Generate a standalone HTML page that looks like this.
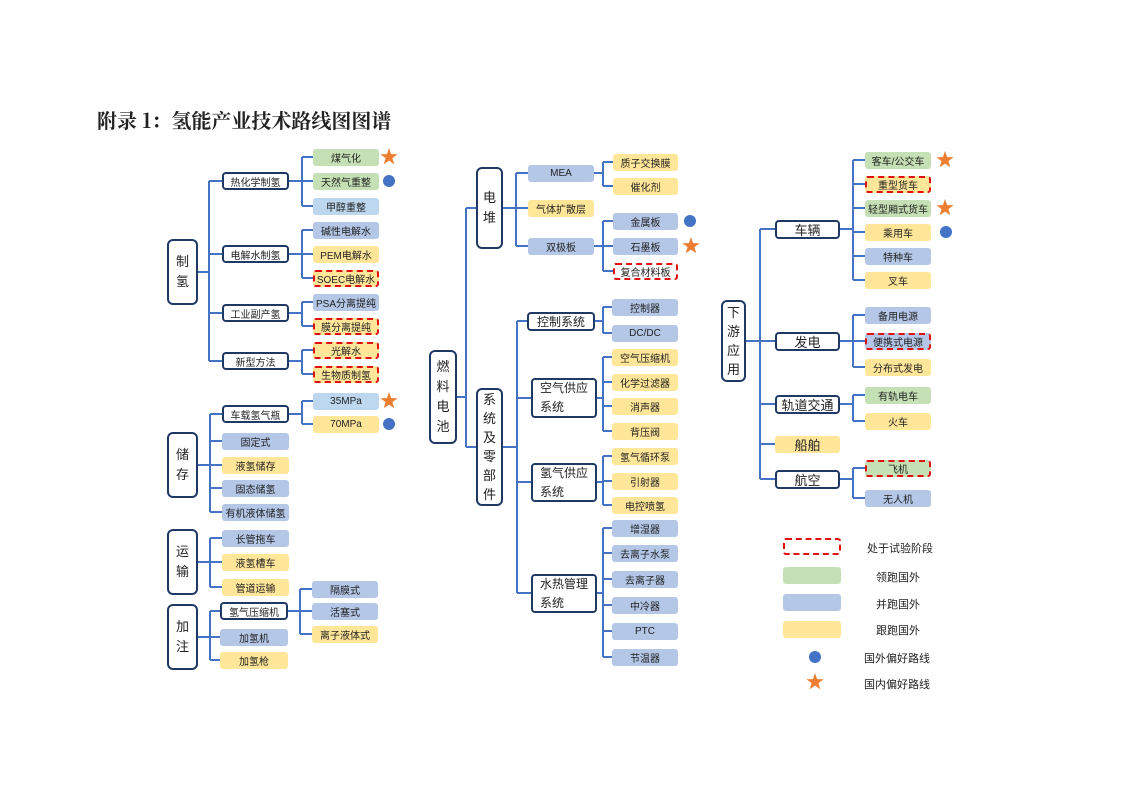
<!DOCTYPE html>
<html><head><meta charset="utf-8"><style>
body{margin:0;background:#fff;}
#c{position:relative;width:1122px;height:793px;overflow:hidden;font-family:"Liberation Sans","Noto Sans CJK SC",sans-serif;color:#222;}
.n{position:absolute;display:flex;align-items:center;justify-content:center;box-sizing:border-box;font-size:10px;border-radius:3px;white-space:nowrap;}
.b{background:#fff;border:2px solid #203864;border-radius:4px;}
.r{flex-direction:column;font-size:13px;line-height:20px;border-radius:6px;}
.g{background:#c5e0b4}.u{background:#b4c7e7}.l{background:#bdd7ee}.y{background:#ffe699}
.d{border:2px dashed #e01010;}
.m{font-size:12px}.k{font-size:13px}
svg{position:absolute;left:0;top:0}
.t{position:absolute;font-size:11px;}
</style></head><body><div id="c">
<div style="position:absolute;left:97px;top:105px;font-family:'Noto Serif CJK SC','Liberation Serif',serif;font-weight:bold;font-size:20px;">附录 1：氢能产业技术路线图图谱</div>
<svg width="1122" height="793"><g fill="none" stroke="#4472c4" stroke-width="2">
<path d="M198 272H209M209 181V361M209 181H222M209 254H222M209 313H222M209 361H222"/>
<path d="M289 181H302M302 157V206M302 157H313M302 181H313M302 206H313"/>
<path d="M289 254H302M302 230V278M302 230H313M302 254H313M302 278H313"/>
<path d="M289 313H302M302 302V326M302 302H313M302 326H313"/>
<path d="M289 361H302M302 350V374M302 350H313M302 374H313"/>
<path d="M198 465H210M210 414V512M210 414H222M210 441H222M210 465H222M210 488H222M210 512H222"/>
<path d="M289 414H302M302 401V424M302 401H313M302 424H313"/>
<path d="M198 562H210M210 538V587M210 538H222M210 562H222M210 587H222"/>
<path d="M198 637H210M210 611V660M210 611H220M210 637H220M210 660H220"/>
<path d="M288 611H300M300 589V634M300 589H312M300 611H312M300 634H312"/>
<path d="M457 397H466M466 208V447M466 208H476M466 447H476"/>
<path d="M503 208H516M516 173V246M516 173H528M516 208H528M516 246H528"/>
<path d="M594 173H603M603 162V186M603 162H613M603 186H613"/>
<path d="M594 246H603M603 221V271M603 221H613M603 246H613M603 271H613"/>
<path d="M503 447H517M517 321V593M517 321H527M517 398H531M517 482H531M517 593H531"/>
<path d="M595 321H603M603 307V333M603 307H612M603 333H612"/>
<path d="M597 398H603M603 357V431M603 357H612M603 382H612M603 406H612M603 431H612"/>
<path d="M597 482H603M603 456V505M603 456H612M603 481H612M603 505H612"/>
<path d="M597 593H603M603 528V657M603 528H612M603 553H612M603 579H612M603 605H612M603 631H612M603 657H612"/>
<path d="M746 341H760M760 229V479M760 229H775M760 341H775M760 404H775M760 444H775M760 479H775"/>
<path d="M840 229H853M853 160V280M853 160H865M853 184H865M853 208H865M853 232H865M853 256H865M853 280H865"/>
<path d="M840 341H853M853 315V367M853 315H865M853 341H865M853 367H865"/>
<path d="M840 404H853M853 395V421M853 395H865M853 421H865"/>
<path d="M840 479H853M853 468V498M853 468H865M853 498H865"/>
</g>
<g fill="#4472c4"><circle cx="389" cy="181" r="6"/><circle cx="389" cy="424" r="6"/><circle cx="690" cy="221" r="6"/><circle cx="946" cy="232" r="6"/><circle cx="815" cy="657" r="6"/></g>
<g fill="#ed7d31">
<polygon transform="translate(389,157)" points="0,-9 2.1,-2.9 8.6,-2.8 3.4,1.1 5.3,7.3 0,3.6 -5.3,7.3 -3.4,1.1 -8.6,-2.8 -2.1,-2.9"/>
<polygon transform="translate(389,401)" points="0,-9 2.1,-2.9 8.6,-2.8 3.4,1.1 5.3,7.3 0,3.6 -5.3,7.3 -3.4,1.1 -8.6,-2.8 -2.1,-2.9"/>
<polygon transform="translate(691,246)" points="0,-9 2.1,-2.9 8.6,-2.8 3.4,1.1 5.3,7.3 0,3.6 -5.3,7.3 -3.4,1.1 -8.6,-2.8 -2.1,-2.9"/>
<polygon transform="translate(945,160)" points="0,-9 2.1,-2.9 8.6,-2.8 3.4,1.1 5.3,7.3 0,3.6 -5.3,7.3 -3.4,1.1 -8.6,-2.8 -2.1,-2.9"/>
<polygon transform="translate(945,208)" points="0,-9 2.1,-2.9 8.6,-2.8 3.4,1.1 5.3,7.3 0,3.6 -5.3,7.3 -3.4,1.1 -8.6,-2.8 -2.1,-2.9"/>
<polygon transform="translate(815,682)" points="0,-9 2.1,-2.9 8.6,-2.8 3.4,1.1 5.3,7.3 0,3.6 -5.3,7.3 -3.4,1.1 -8.6,-2.8 -2.1,-2.9"/>
</g></svg>

<!-- left -->
<div class="n b r" style="left:167px;top:239px;width:31px;height:66px">制<br>氢</div>
<div class="n b" style="left:222px;top:172px;width:67px;height:18px">热化学制氢</div>
<div class="n b" style="left:222px;top:245px;width:67px;height:18px">电解水制氢</div>
<div class="n b" style="left:222px;top:304px;width:67px;height:18px">工业副产氢</div>
<div class="n b" style="left:222px;top:352px;width:67px;height:18px">新型方法</div>
<div class="n g" style="left:313px;top:149px;width:66px;height:17px">煤气化</div>
<div class="n g" style="left:313px;top:173px;width:66px;height:17px">天然气重整</div>
<div class="n l" style="left:313px;top:198px;width:66px;height:17px">甲醇重整</div>
<div class="n u" style="left:313px;top:222px;width:66px;height:17px">碱性电解水</div>
<div class="n y" style="left:313px;top:246px;width:66px;height:17px">PEM电解水</div>
<div class="n y d" style="left:313px;top:270px;width:66px;height:17px">SOEC电解水</div>
<div class="n u" style="left:313px;top:294px;width:66px;height:17px">PSA分离提纯</div>
<div class="n y d" style="left:313px;top:318px;width:66px;height:17px">膜分离提纯</div>
<div class="n y d" style="left:313px;top:342px;width:66px;height:17px">光解水</div>
<div class="n y d" style="left:313px;top:366px;width:66px;height:17px">生物质制氢</div>

<div class="n b r" style="left:167px;top:432px;width:31px;height:66px">储<br>存</div>
<div class="n b" style="left:222px;top:405px;width:67px;height:18px">车载氢气瓶</div>
<div class="n u" style="left:222px;top:433px;width:67px;height:17px">固定式</div>
<div class="n y" style="left:222px;top:457px;width:67px;height:17px">液氢储存</div>
<div class="n u" style="left:222px;top:480px;width:67px;height:17px">固态储氢</div>
<div class="n u" style="left:222px;top:504px;width:67px;height:17px">有机液体储氢</div>
<div class="n l" style="left:313px;top:393px;width:66px;height:17px">35MPa</div>
<div class="n y" style="left:313px;top:416px;width:66px;height:17px">70MPa</div>

<div class="n b r" style="left:167px;top:529px;width:31px;height:66px">运<br>输</div>
<div class="n u" style="left:222px;top:530px;width:67px;height:17px">长管拖车</div>
<div class="n y" style="left:222px;top:554px;width:67px;height:17px">液氢槽车</div>
<div class="n y" style="left:222px;top:579px;width:67px;height:17px">管道运输</div>

<div class="n b r" style="left:167px;top:604px;width:31px;height:66px">加<br>注</div>
<div class="n b" style="left:220px;top:602px;width:68px;height:18px">氢气压缩机</div>
<div class="n u" style="left:220px;top:629px;width:68px;height:17px">加氢机</div>
<div class="n y" style="left:220px;top:652px;width:68px;height:17px">加氢枪</div>
<div class="n u" style="left:312px;top:581px;width:66px;height:17px">隔膜式</div>
<div class="n u" style="left:312px;top:603px;width:66px;height:17px">活塞式</div>
<div class="n y" style="left:312px;top:626px;width:66px;height:17px">离子液体式</div>

<!-- middle -->
<div class="n b r" style="left:429px;top:350px;width:28px;height:94px">燃<br>料<br>电<br>池</div>
<div class="n b r" style="left:476px;top:167px;width:27px;height:82px">电<br>堆</div>
<div class="n b r" style="left:476px;top:388px;width:27px;height:118px;line-height:19px">系<br>统<br>及<br>零<br>部<br>件</div>
<div class="n u" style="left:528px;top:165px;width:66px;height:17px">MEA</div>
<div class="n y" style="left:528px;top:200px;width:66px;height:17px">气体扩散层</div>
<div class="n u" style="left:528px;top:238px;width:66px;height:17px">双极板</div>
<div class="n y" style="left:613px;top:154px;width:65px;height:17px">质子交换膜</div>
<div class="n y" style="left:613px;top:178px;width:65px;height:17px">催化剂</div>
<div class="n u" style="left:613px;top:213px;width:65px;height:17px">金属板</div>
<div class="n u" style="left:613px;top:238px;width:65px;height:17px">石墨板</div>
<div class="n d" style="left:613px;top:263px;width:65px;height:17px;background:#fff">复合材料板</div>
<div class="n b m" style="left:527px;top:312px;width:68px;height:19px">控制系统</div>
<div class="n b m" style="left:531px;top:378px;width:66px;height:40px;flex-direction:column;line-height:19px">空气供应<br>系统</div>
<div class="n b m" style="left:531px;top:463px;width:66px;height:39px;flex-direction:column;line-height:19px">氢气供应<br>系统</div>
<div class="n b m" style="left:531px;top:574px;width:66px;height:39px;flex-direction:column;line-height:19px">水热管理<br>系统</div>
<div class="n u" style="left:612px;top:299px;width:66px;height:17px">控制器</div>
<div class="n u" style="left:612px;top:325px;width:66px;height:17px">DC/DC</div>
<div class="n y" style="left:612px;top:349px;width:66px;height:17px">空气压缩机</div>
<div class="n y" style="left:612px;top:374px;width:66px;height:17px">化学过滤器</div>
<div class="n y" style="left:612px;top:398px;width:66px;height:17px">消声器</div>
<div class="n y" style="left:612px;top:423px;width:66px;height:17px">背压阀</div>
<div class="n y" style="left:612px;top:448px;width:66px;height:17px">氢气循环泵</div>
<div class="n y" style="left:612px;top:473px;width:66px;height:17px">引射器</div>
<div class="n y" style="left:612px;top:497px;width:66px;height:17px">电控喷氢</div>
<div class="n u" style="left:612px;top:520px;width:66px;height:17px">增湿器</div>
<div class="n u" style="left:612px;top:545px;width:66px;height:17px">去离子水泵</div>
<div class="n u" style="left:612px;top:571px;width:66px;height:17px">去离子器</div>
<div class="n u" style="left:612px;top:597px;width:66px;height:17px">中冷器</div>
<div class="n u" style="left:612px;top:623px;width:66px;height:17px">PTC</div>
<div class="n u" style="left:612px;top:649px;width:66px;height:17px">节温器</div>

<!-- right -->
<div class="n b r" style="left:721px;top:300px;width:25px;height:82px;line-height:19px">下<br>游<br>应<br>用</div>
<div class="n b k" style="left:775px;top:220px;width:65px;height:19px">车辆</div>
<div class="n b k" style="left:775px;top:332px;width:65px;height:19px">发电</div>
<div class="n b k" style="left:775px;top:395px;width:65px;height:19px">轨道交通</div>
<div class="n y k" style="left:775px;top:436px;width:65px;height:17px">船舶</div>
<div class="n b k" style="left:775px;top:470px;width:65px;height:19px">航空</div>
<div class="n g" style="left:865px;top:152px;width:66px;height:17px">客车/公交车</div>
<div class="n y d" style="left:865px;top:176px;width:66px;height:17px">重型货车</div>
<div class="n g" style="left:865px;top:200px;width:66px;height:17px">轻型厢式货车</div>
<div class="n y" style="left:865px;top:224px;width:66px;height:17px">乘用车</div>
<div class="n u" style="left:865px;top:248px;width:66px;height:17px">特种车</div>
<div class="n y" style="left:865px;top:272px;width:66px;height:17px">叉车</div>
<div class="n u" style="left:865px;top:307px;width:66px;height:17px">备用电源</div>
<div class="n u d" style="left:865px;top:333px;width:66px;height:17px">便携式电源</div>
<div class="n y" style="left:865px;top:359px;width:66px;height:17px">分布式发电</div>
<div class="n g" style="left:865px;top:387px;width:66px;height:17px">有轨电车</div>
<div class="n y" style="left:865px;top:413px;width:66px;height:17px">火车</div>
<div class="n g d" style="left:865px;top:460px;width:66px;height:17px">飞机</div>
<div class="n u" style="left:865px;top:490px;width:66px;height:17px">无人机</div>

<!-- legend -->
<div class="n d" style="left:783px;top:538px;width:58px;height:17px;background:#fff"></div>
<div class="n g" style="left:783px;top:567px;width:58px;height:17px"></div>
<div class="n u" style="left:783px;top:594px;width:58px;height:17px"></div>
<div class="n y" style="left:783px;top:621px;width:58px;height:17px"></div>
<div class="t" style="left:867px;top:540px">处于试验阶段</div>
<div class="t" style="left:876px;top:569px">领跑国外</div>
<div class="t" style="left:876px;top:596px">并跑国外</div>
<div class="t" style="left:876px;top:622px">跟跑国外</div>
<div class="t" style="left:864px;top:650px">国外偏好路线</div>
<div class="t" style="left:864px;top:676px">国内偏好路线</div>
</div></body></html>
